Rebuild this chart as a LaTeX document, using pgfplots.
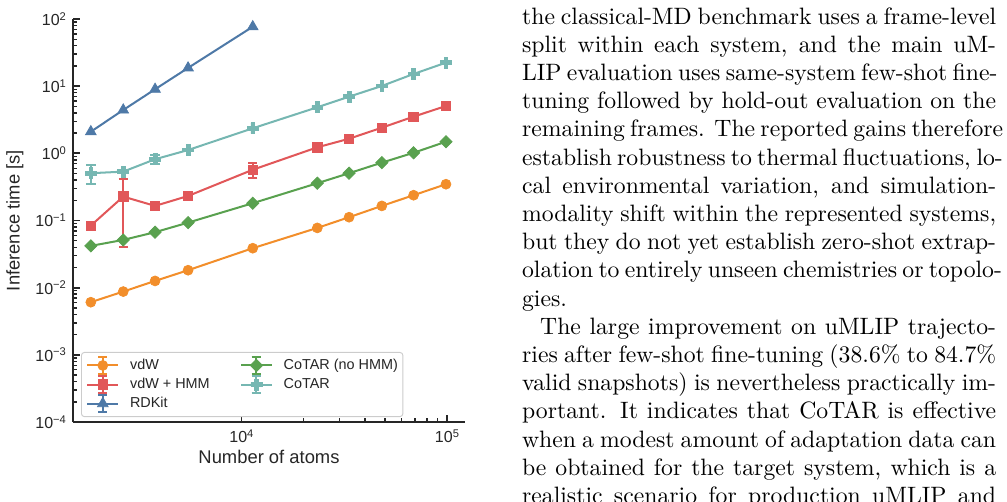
\documentclass[border=0pt]{standalone}
\usepackage{fontspec}
\usepackage{pgfplots}
\pgfplotsset{compat=1.18}
\newfontfamily\chartfont{Liberation Sans}

\definecolor{tabblue}{HTML}{4E79A7}
\definecolor{taborange}{HTML}{F28E2B}
\definecolor{tabred}{HTML}{E15759}
\definecolor{tabteal}{HTML}{76B7B2}
\definecolor{tabgreen}{HTML}{59A14F}
\definecolor{spine}{HTML}{262626}

% filled diamond (square turned by 45 degrees)
\pgfdeclareplotmark{dia}{%
  \pgfpathmoveto{\pgfqpoint{0pt}{\pgfplotmarksize}}%
  \pgfpathlineto{\pgfqpoint{\pgfplotmarksize}{0pt}}%
  \pgfpathlineto{\pgfqpoint{0pt}{-\pgfplotmarksize}}%
  \pgfpathlineto{\pgfqpoint{-\pgfplotmarksize}{0pt}}%
  \pgfpathclose\pgfusepathqfillstroke}
% filled plus sign
\pgfdeclareplotmark{pfill}{%
  \pgfpathmoveto{\pgfpoint{-0.333\pgfplotmarksize}{\pgfplotmarksize}}%
  \pgfpathlineto{\pgfpoint{0.333\pgfplotmarksize}{\pgfplotmarksize}}%
  \pgfpathlineto{\pgfpoint{0.333\pgfplotmarksize}{0.333\pgfplotmarksize}}%
  \pgfpathlineto{\pgfpoint{\pgfplotmarksize}{0.333\pgfplotmarksize}}%
  \pgfpathlineto{\pgfpoint{\pgfplotmarksize}{-0.333\pgfplotmarksize}}%
  \pgfpathlineto{\pgfpoint{0.333\pgfplotmarksize}{-0.333\pgfplotmarksize}}%
  \pgfpathlineto{\pgfpoint{0.333\pgfplotmarksize}{-\pgfplotmarksize}}%
  \pgfpathlineto{\pgfpoint{-0.333\pgfplotmarksize}{-\pgfplotmarksize}}%
  \pgfpathlineto{\pgfpoint{-0.333\pgfplotmarksize}{-0.333\pgfplotmarksize}}%
  \pgfpathlineto{\pgfpoint{-\pgfplotmarksize}{-0.333\pgfplotmarksize}}%
  \pgfpathlineto{\pgfpoint{-\pgfplotmarksize}{0.333\pgfplotmarksize}}%
  \pgfpathlineto{\pgfpoint{-0.333\pgfplotmarksize}{0.333\pgfplotmarksize}}%
  \pgfpathclose\pgfusepathqfillstroke}

% tick label 10^n in the chart font
\newcommand\tl[1]{10\raisebox{2.25pt}{\fontsize{4.7}{5}\selectfont #1}}
% one justified line of the running text
\newcommand\tline[1]{\hbox to \hsize{#1}}

\pgfplotsset{
  series/.style={line width=0.85pt, color=#1, solid,
    mark options={solid, fill=#1, draw=#1, line width=0.3pt},
    error bars/y dir=both, error bars/y explicit,
    error bars/error bar style={line width=0.85pt, color=#1},
    error bars/error mark options={rotate=90, mark size=2pt, line width=0.85pt, color=#1}},
}

\begin{document}
\begin{tikzpicture}
\useasboundingbox (0,0) rectangle (424.89pt,211.39pt);
\clip (0,0) rectangle (424.89pt,211.39pt);

\begin{axis}[
  at={(30.80pt,33.33pt)}, anchor=south west,
  scale only axis, width=165.40pt, height=170.04pt,
  xmode=log, ymode=log,
  xmin=1515, xmax=122400, ymin=1e-4, ymax=100,
  axis x line*=bottom, axis y line*=left,
  axis line style={spine, line width=0.85pt},
  tick align=inside,
  major tick length=2.95pt, minor tick length=1.7pt,
  every tick/.style={spine, line width=0.75pt},
  every minor tick/.style={spine, line width=0.6pt},
  xtick={1e4,1e5}, xticklabels={\tl{4},\tl{5}},
  ytick={1e-4,1e-3,1e-2,1e-1,1,10,100},
  yticklabels={\tl{−4},\tl{−3},\tl{−2},\tl{−1},\tl{0},\tl{1},\tl{2}},
  ticklabel style={font=\chartfont\fontsize{6.75}{8}\selectfont, text=spine},
  xticklabel style={anchor=north, inner sep=0pt, yshift=-2.9pt},
  yticklabel style={anchor=east, inner sep=0pt, xshift=-2.8pt},
  xlabel={Number of atoms}, ylabel={Inference time [s]},
  every axis x label/.style={at={(axis description cs:0.5,0)}, anchor=base,
    yshift=-17.43pt, font=\chartfont\fontsize{7.76}{9}\selectfont, text=spine},
  every axis y label/.style={at={(axis description cs:-0.148,0.5)}, anchor=center,
    rotate=90, font=\chartfont\fontsize{7.76}{9}\selectfont, text=spine},
  clip=false,
  legend columns=2,
  legend cell align=left,
  legend style={at={(axis description cs:0.0204,0.0123)}, anchor=south west,
    draw=black!20, line width=0.4pt, rounded corners=1.2pt, fill=white,
    font=\chartfont\fontsize{6.08}{7}\selectfont, text=spine,
    inner xsep=2.1pt, inner ysep=1.6pt,
    nodes={inner sep=0pt, text height=4.4pt, text depth=1.2pt},
    /tikz/column sep=4.6pt, row sep=0.3pt,
    /tikz/every even column/.append style={column sep=12.8pt}},
  legend image code/.code={%
    \draw[#1, mark=none] (0pt,0pt) -- (12.95pt,0pt);
    \draw[#1, mark=none] (6.475pt,-3.45pt) -- (6.475pt,3.45pt)
      (4.5pt,3.45pt) -- (8.45pt,3.45pt) (4.5pt,-3.45pt) -- (8.45pt,-3.45pt);
    \draw[#1] plot coordinates {(6.475pt,0pt)};
  },
]

% vdW
\addplot[series=taborange, mark=*, mark size=2.1pt, forget plot] coordinates {
  (1850,0.00608) (2660,0.00875) (3800,0.0126) (5500,0.0182) (11350,0.0387)
  (23400,0.0776) (33400,0.112) (48200,0.165) (68800,0.238) (98900,0.347)};
% vdW + HMM
\addplot[series=tabred, mark=square*, mark size=2.0pt, forget plot] coordinates {
  (1850,0.084) (2660,0.227) +- (0,0.187) (3800,0.165) (5500,0.232)
  (11350,0.57) +- (0,0.14) (23400,1.23) (33400,1.65) (48200,2.41)
  (68800,3.52) (98900,5.07)};
% RDKit
\addplot[series=tabblue, mark=triangle*, mark size=2.6pt, forget plot] coordinates {
  (1850,2.10) (2660,4.42) (3800,9.0) (5500,18.7) (11350,76.8)};
% CoTAR (no HMM)
\addplot[series=tabgreen, mark=dia, mark size=2.6pt, forget plot] coordinates {
  (1850,0.0419) (2660,0.0514) (3800,0.067) (5500,0.093) (11350,0.181)
  (23400,0.359) (33400,0.506) (48200,0.727) (68800,1.02) (98900,1.49)};
% CoTAR
\addplot[series=tabteal, mark=pfill, mark size=2.3pt, forget plot] coordinates {
  (1850,0.506) +- (0,0.16) (2660,0.534) (3800,0.817) +- (0,0.122)
  (5500,1.12) (11350,2.36) (23400,4.85) (33400,6.98) (48200,10.07)
  (68800,15.2) (98900,22.4)};

% legend, filled row by row
\addlegendimage{series=taborange, mark=*, mark size=2.1pt}
\addlegendentry{vdW}
\addlegendimage{series=tabgreen, mark=dia, mark size=2.6pt}
\addlegendentry{CoTAR (no HMM)}
\addlegendimage{series=tabred, mark=square*, mark size=2.0pt}
\addlegendentry{vdW + HMM}
\addlegendimage{series=tabteal, mark=pfill, mark size=2.3pt}
\addlegendentry{CoTAR}
\addlegendimage{series=tabblue, mark=triangle*, mark size=2.6pt}
\addlegendentry{RDKit}
\end{axis}

% running text beside the figure
\node[anchor=north west, inner sep=0pt] at (220.1pt,208.5pt) {%
\parbox[t]{200pt}{\fontsize{10}{11.9}\selectfont
\tline{the classical-MD benchmark uses a frame-level}
\tline{split within each system, and the main uM-}
\tline{LIP evaluation uses same-system few-shot fine-}
\tline{tuning followed by hold-out evaluation on the}
\tline{remaining frames. The reported gains therefore}
\tline{establish robustness to thermal fluctuations, lo-}
\tline{cal environmental variation, and simulation-}
\tline{modality shift within the represented systems,}
\tline{but they do not yet establish zero-shot extrap-}
\tline{olation to entirely unseen chemistries or topolo-}
\tline{gies.\hfil}
\tline{\hspace*{7.6pt}The large improvement on uMLIP trajecto-}
\tline{ries after few-shot fine-tuning (38.6\% to 84.7\%}
\tline{valid snapshots) is nevertheless practically im-}
\tline{portant. It indicates that CoTAR is effective}
\tline{when a modest amount of adaptation data can}
\tline{be obtained for the target system, which is a}
\tline{realistic scenario for production uMLIP and}
}};
\end{tikzpicture}
\end{document}
